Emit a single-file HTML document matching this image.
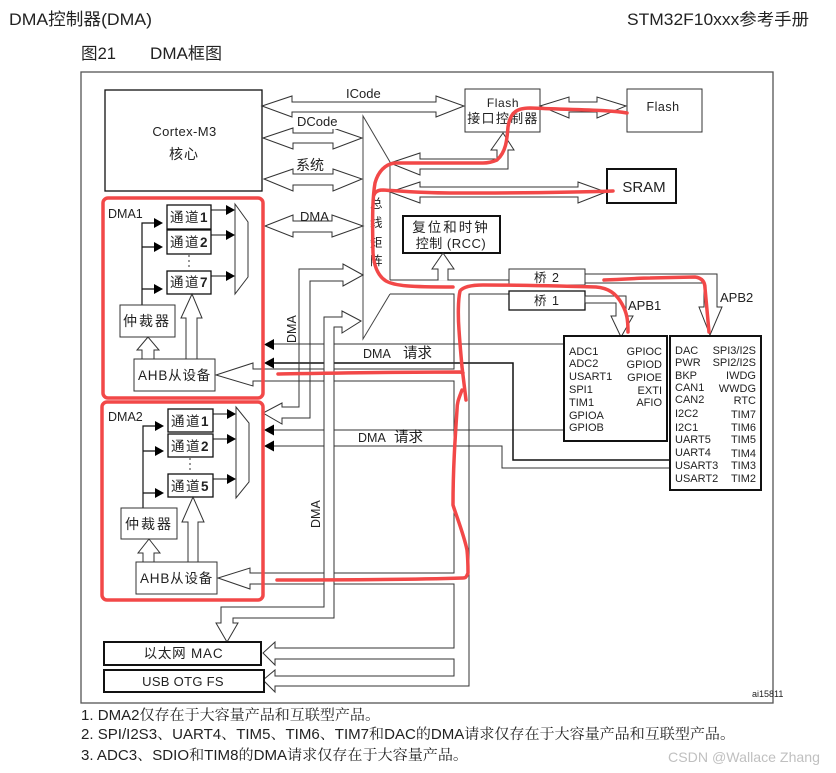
<!DOCTYPE html>
<html><head><meta charset="utf-8"><style>
html,body{margin:0;padding:0;background:#fff}
svg{display:block}
text{font-family:"Liberation Sans","Noto Sans CJK SC",sans-serif;fill:#222}
.s{fill:none;stroke:#333;stroke-width:1}
.w{fill:#fff;stroke:#333;stroke-width:1}
.b{fill:#fff;stroke:#111;stroke-width:1.3}
.t{fill:#fff;stroke:#111;stroke-width:2}
.k{fill:#000;stroke:none}
.r{fill:none;stroke:#f24848;stroke-width:3.5;stroke-linecap:round;stroke-linejoin:round}
.m{font-size:13px}
.c{font-size:13.5px;letter-spacing:1.5px}
.l{font-size:11px}
.e{text-anchor:end}
.n{font-size:14.5px;font-family:"Liberation Sans","Noto Serif CJK SC",serif}
</style></head><body>
<svg width="836" height="773" viewBox="0 0 836 773" xmlns="http://www.w3.org/2000/svg">
<rect width="836" height="773" fill="#fff"/>
<text x="9" y="25" font-size="17" textLength="143" lengthAdjust="spacingAndGlyphs">DMA控制器(DMA)</text>
<text x="627" y="25" font-size="16.5" textLength="182" lengthAdjust="spacingAndGlyphs">STM32F10xxx参考手册</text>
<text x="81" y="59" font-size="16.5" textLength="35" lengthAdjust="spacingAndGlyphs">图21</text>
<text x="150" y="59" font-size="16.5" textLength="72" lengthAdjust="spacingAndGlyphs">DMA框图</text>
<rect x="81" y="72" width="692" height="631" fill="#fff" stroke="#555" stroke-width="1.3"/>

<!-- horizontal request lines -->
<path class="s" d="M273 344H564M273 430H564"/>
<path class="s" d="M273 446H502V468H670" />
<path d="M273 363H513V460H670" fill="none" stroke="#111" stroke-width="1.5"/>
<path class="k" d="M264 344.5l10-5.5v11zM264 363l10-5.5v11zM264 430l10-5.5v11zM264 446l10-5.5v11z"/>

<!-- cortex and core arrows -->
<rect class="b" x="105" y="90" width="157" height="101"/>
<text x="184.500" y="136" font-size="13" text-anchor="middle" letter-spacing=".4">Cortex-M3</text>
<text x="184" y="159" font-size="14" text-anchor="middle" letter-spacing="1">核心</text>
<polygon class="w" points="262,106 292,96 292,102 436,102 436,96 464,106 436,117 436,112 292,112 292,117"/>
<polygon class="w" points="263,138 293,128 293,133 333,133 333,128 362,138 333,149 333,143 293,143 293,149"/>
<polygon class="w" points="264,179 293,169 293,174 333,174 333,169 362,179 333,191 333,185 293,185 293,191"/>
<polygon class="w" points="265,226 293,215 293,221 332,221 332,215 363,226 332,237 332,232 293,232 293,237"/>
<rect x="345" y="88" width="37" height="12" fill="#fff"/>
<text x="346" y="98" class="m">ICode</text>
<rect x="296" y="116" width="42" height="13" fill="#fff"/>
<text x="297" y="126" class="m">DCode</text>
<rect x="296" y="158" width="30" height="14" fill="#fff"/>
<text x="296" y="170" font-size="14">系统</text>
<text x="300" y="221" class="m">DMA</text>

<!-- bus matrix -->
<path class="s" d="M390 280V162L363 116V339L390 294" style="stroke:#444"/>
<text x="370" y="208" font-size="12.500">总</text>
<text x="370" y="227" font-size="12.500">线</text>
<text x="370" y="247" font-size="12.500">矩</text>
<text x="370" y="265" font-size="12.500">阵</text>

<!-- AHB long line -->
<polyline class="s" points="390,294 454,294 454,369 253,369 253,363 216,375 253,386 253,381 454,381 454,573 250,573 250,568 218,578 250,589 250,584 454,584 454,648 275,648 275,642 263,653 275,665 275,659 454,659 454,676 275,676 275,670 263,680 275,692 275,686 469,686 469,294 510,294"/>

<!-- DMA bus 1 -->
<polygon class="s" points="363,275 343,264 343,269 299,269 299,407 282,407 282,403 263,413 282,424 282,418 310,418 310,281 343,281 343,286"/>
<!-- DMA bus 2 -->
<polygon class="w" points="361,321 342,311 342,317 324,317 324,607 221,607 221,623 216,623 227,642 238,623 233,623 233,618 334,618 334,327 342,327 342,333"/>
<text transform="translate(296,343) rotate(-90)" font-size="12.500">DMA</text>
<text transform="translate(320,528) rotate(-90)" font-size="12.500">DMA</text>
<text x="363" y="358" font-size="12.500">DMA</text><text x="403" y="358" font-size="14.500">请求</text>
<text x="358" y="442" font-size="12.500">DMA</text><text x="394" y="442" font-size="14.500">请求</text>

<!-- flash -->
<rect class="w" x="465" y="89" width="75" height="43"/>
<text x="503" y="107" font-size="12" text-anchor="middle" letter-spacing=".6">Flash</text>
<text x="503" y="123" font-size="13" text-anchor="middle" letter-spacing="1.300">接口控制器</text>
<rect class="w" x="627" y="89" width="75" height="43"/>
<text x="663" y="111" font-size="12.500" text-anchor="middle" letter-spacing=".5">Flash</text>
<polygon class="w" points="540,106 569,97 569,102 597,102 597,97 626,106 597,118 597,112 569,112 569,118"/>
<polygon class="w" points="390,163 420,153 420,159 497,159 497,150 491,150 503,133 514,150 508,150 508,169 420,169 420,175"/>

<!-- SRAM -->
<polygon class="w" points="390,192 420,182 420,187 578,187 578,182 606,192 578,203 578,197 420,197 420,203"/>
<rect class="t" x="607" y="169" width="69" height="34"/>
<text x="644" y="192" font-size="15" text-anchor="middle">SRAM</text>

<!-- RCC -->
<rect class="t" x="403" y="216" width="97" height="37"/>
<text x="451" y="232" font-size="13.500" text-anchor="middle" letter-spacing="2">复位和时钟</text>
<text x="451" y="248" font-size="13" text-anchor="middle" letter-spacing=".5">控制 (RCC)</text>
<polygon class="w" points="443,253 432,269 438,269 438,280 390,280 390,280 510,280 448,280 448,269 454,269" style="stroke-linejoin:miter"/>
<rect x="438.6" y="275" width="8.8" height="5.4" fill="#fff"/>

<!-- bridges -->
<rect class="w" x="509" y="269" width="76" height="16"/>
<text x="547" y="282" font-size="12.5" text-anchor="middle" letter-spacing="1">桥 2</text>
<rect class="b" x="509" y="291" width="76" height="19"/>
<text x="547" y="305" font-size="12.5" text-anchor="middle" letter-spacing="1">桥 1</text>
<polygon class="w" points="585,274 717,274 717,307 722,307 710,335 699,307 704,307 704,283 585,283"/>
<polygon class="w" points="585,296 626,296 626,316 633,316 621,337 611,316 616,316 616,303 585,303"/>
<text x="720" y="302" class="m">APB2</text>
<text x="628" y="310" class="m">APB1</text>

<!-- APB boxes -->
<rect class="t" x="564" y="336" width="103" height="105"/>
<g class="l">
<text x="569" y="355">ADC1</text><text x="569" y="367">ADC2</text><text x="569" y="380">USART1</text><text x="569" y="393">SPI1</text><text x="569" y="406">TIM1</text><text x="569" y="419">GPIOA</text><text x="569" y="431">GPIOB</text>
<text x="662" y="355" class="e">GPIOC</text><text x="662" y="368" class="e">GPIOD</text><text x="662" y="381" class="e">GPIOE</text><text x="662" y="394" class="e">EXTI</text><text x="662" y="406" class="e">AFIO</text>
</g>
<rect class="t" x="670" y="336" width="91" height="154"/>
<g class="l">
<text x="675" y="354">DAC</text><text x="675" y="366">PWR</text><text x="675" y="379">BKP</text><text x="675" y="391">CAN1</text><text x="675" y="403">CAN2</text><text x="675" y="417">I2C2</text><text x="675" y="431">I2C1</text><text x="675" y="443">UART5</text><text x="675" y="456">UART4</text><text x="675" y="469">USART3</text><text x="675" y="482">USART2</text>
<text x="756" y="354" class="e">SPI3/I2S</text><text x="756" y="366" class="e">SPI2/I2S</text><text x="756" y="379" class="e">IWDG</text><text x="756" y="392" class="e">WWDG</text><text x="756" y="404" class="e">RTC</text><text x="756" y="418" class="e">TIM7</text><text x="756" y="431" class="e">TIM6</text><text x="756" y="443" class="e">TIM5</text><text x="756" y="457" class="e">TIM4</text><text x="756" y="469" class="e">TIM3</text><text x="756" y="482" class="e">TIM2</text>
</g>

<!-- DMA1 block -->
<text x="108" y="218" font-size="12.500">DMA1</text>
<path d="M142 305V223H155M142 247H155M142 289H155" fill="none" stroke="#111" stroke-width="1.2"/>
<path class="k" d="M163 223l-9-5v10zM163 247l-9-5v10zM163 289l-9-5v10z"/>
<rect class="b" x="167" y="205" width="44" height="24"/>
<rect class="b" x="167" y="230" width="44" height="24"/>
<rect class="b" x="167" y="271" width="44" height="23"/>
<text x="170" y="222" class="c">通道<tspan font-weight="bold">1</tspan></text>
<text x="170" y="247" class="c">通道<tspan font-weight="bold">2</tspan></text>
<text x="170" y="287" class="c">通道<tspan font-weight="bold">7</tspan></text>
<path d="M189 255V270" stroke="#333" stroke-dasharray="2 3" fill="none"/>
<path d="M211 210H226M211 235H226M211 276H226" stroke="#111" fill="none"/>
<path class="k" d="M235 210l-9-5v10zM235 235l-9-5v10zM235 276l-9-5v10z"/>
<polygon class="s" points="235,204 248,222 248,277 235,294"/>
<rect class="w" x="120" y="305" width="55" height="32"/>
<text x="147" y="326" font-size="14" text-anchor="middle" letter-spacing="2">仲裁器</text>
<rect class="w" x="134" y="359" width="81" height="32"/>
<text x="138" y="380" font-size="13.500" letter-spacing=".8">AHB从设备</text>
<polygon class="w" points="148,337 137,350 142,350 142,359 154,359 154,350 159,350"/>
<polygon class="w" points="192,294 181,318 186,318 186,359 197,359 197,318 202,318"/>

<!-- DMA2 block -->
<text x="108" y="421" font-size="12.500">DMA2</text>
<path d="M143 508V426H156M143 451H156M143 493H156" fill="none" stroke="#111" stroke-width="1.2"/>
<path class="k" d="M164 426l-9-5v10zM164 451l-9-5v10zM164 493l-9-5v10z"/>
<rect class="b" x="168" y="409" width="45" height="23"/>
<rect class="b" x="168" y="434" width="45" height="23"/>
<rect class="b" x="168" y="474" width="45" height="23"/>
<text x="171" y="426" class="c">通道<tspan font-weight="bold">1</tspan></text>
<text x="171" y="451" class="c">通道<tspan font-weight="bold">2</tspan></text>
<text x="171" y="491" class="c">通道<tspan font-weight="bold">5</tspan></text>
<path d="M190 458V473" stroke="#333" stroke-dasharray="2 3" fill="none"/>
<path d="M213 414H228M213 439H228M213 479H228" stroke="#111" fill="none"/>
<path class="k" d="M236 414l-9-5v10zM236 439l-9-5v10zM236 479l-9-5v10z"/>
<polygon class="s" points="236,407 249,423 249,482 236,498"/>
<rect class="w" x="121" y="508" width="56" height="31"/>
<text x="149" y="529" font-size="14" text-anchor="middle" letter-spacing="2">仲裁器</text>
<rect class="w" x="136" y="562" width="81" height="32"/>
<text x="140" y="583" font-size="13.500" letter-spacing=".8">AHB从设备</text>
<polygon class="w" points="149,539 138,553 143,553 143,562 154,562 154,553 160,553"/>
<polygon class="w" points="193,497 182,522 188,522 188,562 198,562 198,522 204,522"/>

<!-- MAC/USB -->
<rect class="t" x="104" y="642" width="157" height="23"/>
<text x="183.500" y="658" font-size="13.500" text-anchor="middle" letter-spacing=".8">以太网 MAC</text>
<rect class="t" x="104" y="670" width="160" height="22"/>
<text x="183" y="686" font-size="13" text-anchor="middle" letter-spacing=".3">USB OTG FS</text>
<text x="752" y="697" font-size="9">ai15811</text>

<!-- notes -->
<text x="81" y="720" class="n" textLength="299" lengthAdjust="spacingAndGlyphs">1.  DMA2仅存在于大容量产品和互联型产品。</text>
<text x="81" y="739" class="n" textLength="654" lengthAdjust="spacingAndGlyphs">2.  SPI/I2S3、UART4、TIM5、TIM6、TIM7和DAC的DMA请求仅存在于大容量产品和互联型产品。</text>
<text x="81" y="760" class="n" textLength="387" lengthAdjust="spacingAndGlyphs">3.  ADC3、SDIO和TIM8的DMA请求仅存在于大容量产品。</text>
<text x="668" y="762" font-size="14" style="fill:#c0c0c0" textLength="152" lengthAdjust="spacingAndGlyphs">CSDN @Wallace  Zhang</text>

<!-- red annotations -->
<rect class="r" x="103" y="198" width="160" height="200" rx="5"/>
<rect class="r" x="102" y="402" width="161" height="198" rx="5"/>
<path class="r" d="M627 113C610 110 583 110 530 108C515 108 510 114 508 127C507 140 506 152 497 160C490 163 486 163 483 163L395 163C385 164 378 172 375 183C373 195 372 210 373 253C374 266 378 276 386 281C395 286 410 287 453 287"/>
<path class="r" d="M613 191C560 193 500 193 450 193C420 193 400 191 383 190C378 190 375 192 374 195"/>
<path class="r" d="M628 332C628 320 627 313 622 304C616 293 608 288 596 287C560 286 520 285 483 285C470 285 463 287 460 291C458 300 458 317 459 330C460 345 461 355 462 367L466 400M462 390C459 398 457 402 457 410C455 440 453 470 453 505C456 515 464 535 467 550C468 560 468 570 468 573C466 578 465 578 463 578C400 580 330 580 277 580"/>
<path class="r" d="M278 374C340 373 400 372 460 372L463 373"/>
<path class="r" d="M604 280C630 279 640 278 650 278L695 277C702 278 705 282 705 288L709 332"/>
</svg>
</body></html>
